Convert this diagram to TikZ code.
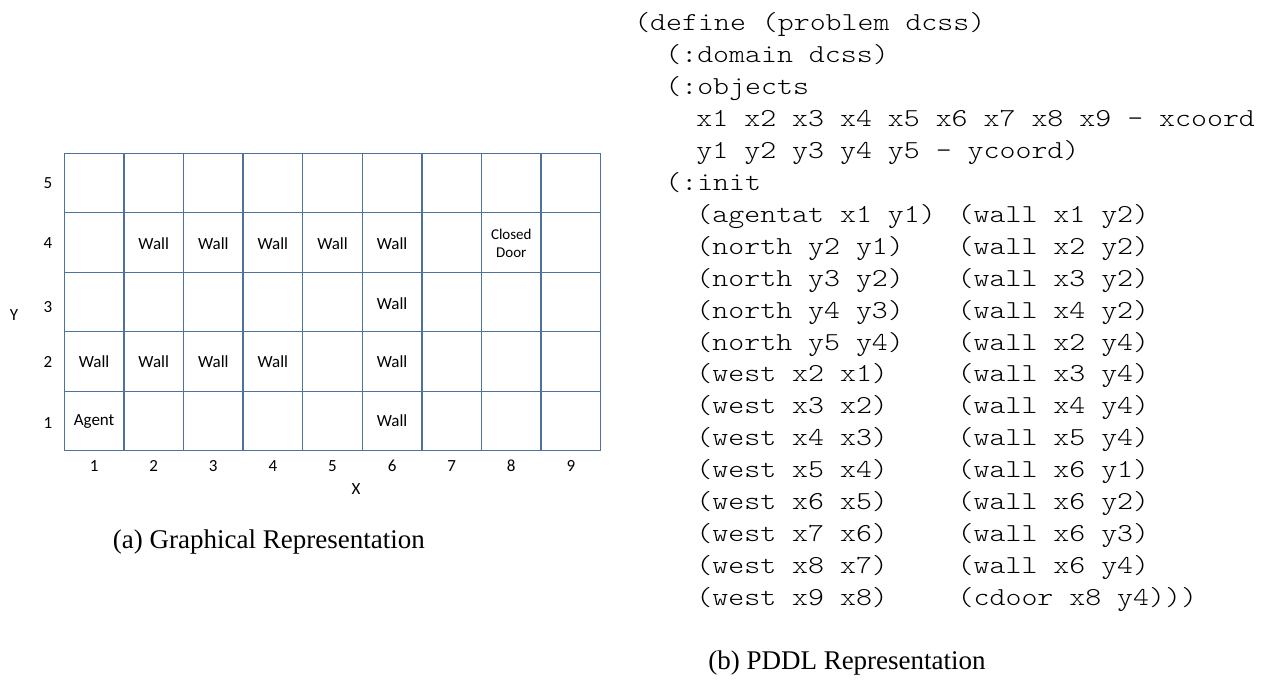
\documentclass[tikz,border=0pt]{standalone}
\usepackage{fontspec}
\setmainfont{Liberation Serif}
\newfontfamily\codefont[FakeStretch=1.175]{Latin Modern Mono Light}
\newfontfamily\calfont{Carlito}
\definecolor{gridblue}{RGB}{79,113,158}
\begin{document}
\begin{tikzpicture}[x=0.75pt,y=-0.75pt,
  gridline/.style={draw=gridblue,line width=1pt},
  lbl/.style={font=\calfont\fontsize{12.75}{15}\selectfont,inner sep=0pt},
  smalllbl/.style={font=\calfont\fontsize{11.25}{13.5}\selectfont,align=center,inner sep=0pt},
  codeline/.style={font=\codefont\fontsize{19.4}{24}\selectfont,anchor=base west,inner sep=0pt},
  captext/.style={font=\fontsize{20.25}{24}\selectfont,anchor=base west,inner sep=0pt}]
\useasboundingbox (0,0) rectangle (1261,679);
% grid
\foreach \i in {0,...,9} {
  \draw[gridline] ({64.3+59.6*\i},153.3) -- ({64.3+59.6*\i},450.7);
}
\foreach \j in {0,...,5} {
  \draw[gridline] (64.3,{153.3+59.48*\j}) -- (600.7,{153.3+59.48*\j});
}
% column numbers
\foreach \c in {1,...,9} {
  \node[lbl] (col\c) at ({64.3+59.6*(\c-0.5)},466) {\c};
}
% row numbers
\node[lbl] (row5) at (48,183.3) {5};
\node[lbl] (row4) at (48,243.3) {4};
\node[lbl] (row3) at (48,306.7) {3};
\node[lbl] (row2) at (48,361.7) {2};
\node[lbl] (row1) at (48,423.3) {1};
\node[lbl] (ylab) at (14,315) {Y};
\node[lbl] (xlab) at (356,489) {X};
% cell contents
\foreach \c in {2,...,6} {
  \node[lbl] (w4\c) at ({64.3+59.6*(\c-0.5)},243.3) {Wall};
}
\node[smalllbl] (door) at ({64.3+59.6*7.5},243.3) {Closed\\Door};
\node[lbl] (w36) at ({64.3+59.6*5.5},303.3) {Wall};
\foreach \c in {1,...,4} {
  \node[lbl] (w2\c) at ({64.3+59.6*(\c-0.5)},361.7) {Wall};
}
\node[lbl] (w26) at ({64.3+59.6*5.5},361.7) {Wall};
\node[lbl] (agent) at ({64.3+59.6*0.5},421) {Agent};
\node[lbl] (w16) at ({64.3+59.6*5.5},421) {Wall};
% captions
\node[captext] (capa) at (112.7,548.3) {(a) Graphical Representation};
\node[captext] (capb) at (708,669.3) {(b) PDDL Representation};
% code
\def\cw{15.55}
\def\cx{634}
\foreach \n/\ind/\t in {0/0/{(define (problem dcss)},
  1/2/{(:domain dcss)},
  2/2/{(:objects},
  3/4/{x1 x2 x3 x4 x5 x6 x7 x8 x9 - xcoord},
  4/4/{y1 y2 y3 y4 y5 - ycoord)},
  5/2/{(:init},
  6/4/{(agentat x1 y1)},
  7/4/{(north y2 y1)},
  8/4/{(north y3 y2)},
  9/4/{(north y4 y3)},
  10/4/{(north y5 y4)},
  11/4/{(west x2 x1)},
  12/4/{(west x3 x2)},
  13/4/{(west x4 x3)},
  14/4/{(west x5 x4)},
  15/4/{(west x6 x5)},
  16/4/{(west x7 x6)},
  17/4/{(west x8 x7)},
  18/4/{(west x9 x8)}} {
  \node[codeline] (c\n) at ({\cx+\cw*\ind},{30.5+31.95*\n}) {\t};
}
\foreach \n/\t in {6/{(wall x1 y2)},
  7/{(wall x2 y2)},
  8/{(wall x3 y2)},
  9/{(wall x4 y2)},
  10/{(wall x2 y4)},
  11/{(wall x3 y4)},
  12/{(wall x4 y4)},
  13/{(wall x5 y4)},
  14/{(wall x6 y1)},
  15/{(wall x6 y2)},
  16/{(wall x6 y3)},
  17/{(wall x6 y4)},
  18/{(cdoor x8 y4)))}} {
  \node[codeline] (r\n) at ({\cx+\cw*20.8},{30.5+31.95*\n}) {\t};
}
\end{tikzpicture}
\end{document}
